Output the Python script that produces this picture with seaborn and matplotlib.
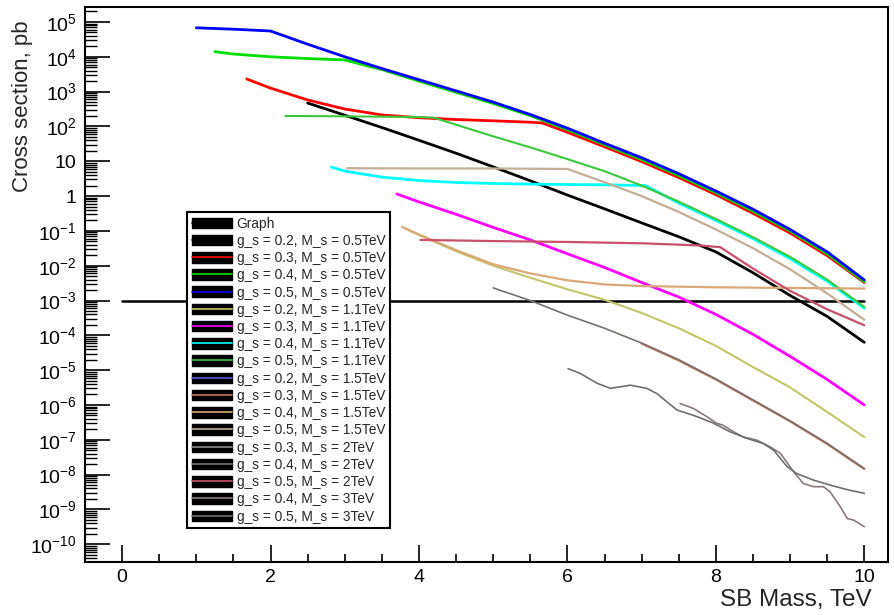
import numpy as np
import pandas as pd
import matplotlib
matplotlib.use("Agg")
import matplotlib.pyplot as plt
import matplotlib.ticker as mticker
from matplotlib.lines import Line2D
from matplotlib.patches import Patch
from matplotlib.legend_handler import HandlerTuple
import seaborn as sns

# ---------------- data (SB mass in TeV, cross section in pb) ----------------
graph_x = [0.0, 10.0]
graph_y = [1e-3, 1e-3]

m_g05_M05 = [1.0, 1.5, 2.0, 2.5, 3.0, 3.5, 4.0, 4.5, 5.0, 5.5, 6.0, 6.5, 7.0, 7.5, 8.0, 8.5, 9.0, 9.5, 10.0]
xs_g05_M05 = [6.8e4, 6.2e4, 5.5e4, 2.3e4, 1.0e4, 4.6e3, 2.2e3, 1.05e3, 5.0e2, 2.2e2, 89, 33, 12.6, 4.4, 1.4, 0.42, 0.11, 0.025, 3.9e-3]

m_g04_M05 = [1.25, 1.5, 2.0, 2.5, 3.0, 3.5, 4.0, 4.5, 5.0, 5.5, 6.0, 6.5, 7.0, 7.5, 8.0, 8.5, 9.0, 9.5, 10.0]
xs_g04_M05 = [1.4e4, 1.2e4, 1.0e4, 8.9e3, 8.1e3, 4.3e3, 2.0e3, 955, 457, 204, 81, 30, 11.2, 3.9, 1.26, 0.37, 0.1, 0.022, 3.5e-3]

m_g03_M05 = [1.68, 2.0, 2.5, 3.0, 3.5, 4.0, 4.5, 5.0, 5.5, 5.66, 6.0, 6.5, 7.0, 7.5, 8.0, 8.5, 9.0, 9.5, 10.0]
xs_g03_M05 = [2.3e3, 1.26e3, 575, 316, 214, 178, 158, 145, 132, 126, 68, 26, 9.8, 3.4, 1.1, 0.32, 0.087, 0.0195, 3.3e-3]

m_g02_M05 = [2.5, 3.0, 3.5, 4.0, 4.5, 5.0, 5.5, 6.0, 6.5, 7.0, 7.5, 8.0, 8.5, 9.0, 9.5, 10.0]
xs_g02_M05 = [470, 210, 93, 40, 17, 6.9, 2.75, 1.07, 0.43, 0.17, 0.068, 0.025, 6.3e-3, 1.4e-3, 3.5e-4, 6.3e-5]

m_g05_M11 = [2.2, 3.0, 4.0, 4.2, 4.5, 5.0, 5.5, 6.0, 6.5, 7.0, 7.5, 8.0, 8.5, 9.0, 9.5, 10.0]
xs_g05_M11 = [200, 195, 186, 178, 112, 52, 25, 11.5, 5.2, 2.0, 0.69, 0.22, 0.066, 0.018, 4.0e-3, 6.5e-4]

m_g04_M11 = [2.82, 3.0, 3.5, 4.0, 4.5, 5.0, 5.5, 6.0, 6.5, 7.05, 7.5, 8.0, 8.5, 9.0, 9.5, 10.0]
xs_g04_M11 = [6.8, 5.2, 3.5, 2.8, 2.45, 2.3, 2.2, 2.15, 2.1, 2.0, 0.63, 0.2, 0.06, 0.016, 3.6e-3, 6.0e-4]

m_g03_M11 = [3.7, 4.0, 4.5, 5.0, 5.5, 6.0, 6.5, 7.0, 7.5, 8.0, 8.5, 9.0, 9.5, 10.0]
xs_g03_M11 = [1.15, 0.68, 0.3, 0.126, 0.055, 0.022, 8.9e-3, 3.3e-3, 1.26e-3, 4.0e-4, 1.07e-4, 2.5e-5, 5.4e-6, 1.0e-6]

m_g02_M11 = [3.8, 4.0, 4.5, 5.0, 5.5, 6.0, 6.5, 7.0, 7.5, 8.0, 8.5, 9.0, 9.5, 10.0]
xs_g02_M11 = [0.12, 0.076, 0.026, 0.01, 4.5e-3, 2.1e-3, 1.05e-3, 4.4e-4, 1.6e-4, 5.0e-5, 1.23e-5, 3.2e-6, 6.3e-7, 1.2e-7]

m_g05_M15 = [3.03, 4.0, 5.0, 6.0, 6.5, 7.0, 7.5, 8.0, 8.5, 9.0, 9.5, 10.0]
xs_g05_M15 = [6.3, 6.2, 6.2, 6.0, 2.5, 1.0, 0.35, 0.11, 0.032, 7.9e-3, 1.6e-3, 2.8e-4]

m_g04_M15 = [3.77, 4.0, 4.5, 5.0, 5.5, 6.0, 6.5, 7.0, 8.0, 9.0, 10.0]
xs_g04_M15 = [0.13, 0.079, 0.028, 0.011, 6.0e-3, 3.8e-3, 2.9e-3, 2.6e-3, 2.4e-3, 2.3e-3, 2.2e-3]

m_g03_M15 = [7.0, 7.5, 8.0, 8.5, 9.0, 9.5, 10.0]
xs_g03_M15 = [5.8e-5, 1.9e-5, 5.4e-6, 1.35e-6, 3.4e-7, 7.6e-8, 1.45e-8]

m_g05_M2 = [4.02, 5.0, 6.0, 7.0, 7.8, 8.06, 8.5, 9.0, 9.5, 10.0]
xs_g05_M2 = [0.055, 0.051, 0.048, 0.044, 0.038, 0.034, 8.3e-3, 1.9e-3, 5.6e-4, 1.95e-4]

m_g04_M2 = [5.0, 5.5, 6.0, 6.5, 7.0, 7.5, 8.0, 8.5, 9.0, 9.5, 10.0]
xs_g04_M2 = [2.3e-3, 1.0e-3, 3.8e-4, 1.6e-4, 6.0e-5, 2.0e-5, 5.6e-6, 1.4e-6, 3.5e-7, 7.9e-8, 1.5e-8]

m_g05_M3 = [6.01, 6.17, 6.40, 6.58, 6.85, 7.07, 7.21, 7.34, 7.48, 7.61, 7.75, 7.97, 8.19, 8.42, 8.64, 8.78, 8.96, 9.09, 9.32, 9.54, 9.77, 10.0]
xs_g05_M3 = [1.1e-5, 8.1e-6, 4.2e-6, 3.0e-6, 3.7e-6, 3.0e-6, 2.1e-6, 1.23e-6, 7.1e-7, 5.8e-7, 4.6e-7, 3.0e-7, 1.7e-7, 1.1e-7, 7.8e-8, 5.0e-8, 1.7e-8, 1.07e-8, 6.9e-9, 5.0e-9, 3.7e-9, 2.9e-9]

m_g04_M3 = [7.52, 7.70, 7.88, 8.01, 8.10, 8.24, 8.37, 8.55, 8.73, 8.87, 9.05, 9.18, 9.32, 9.45, 9.54, 9.68, 9.77, 9.86, 10.0]
xs_g04_M3 = [1.1e-6, 7.9e-7, 4.6e-7, 3.0e-7, 2.6e-7, 1.7e-7, 1.2e-7, 9.8e-8, 6.3e-8, 4.1e-8, 1.2e-8, 5.5e-9, 4.5e-9, 4.5e-9, 3.2e-9, 1.17e-9, 5.5e-10, 4.9e-10, 3.2e-10]

m_empty = []
xs_empty = []

legend_labels = ["Graph",
                 "g_s = 0.2, M_s = 0.5TeV", "g_s = 0.3, M_s = 0.5TeV", "g_s = 0.4, M_s = 0.5TeV", "g_s = 0.5, M_s = 0.5TeV",
                 "g_s = 0.2, M_s = 1.1TeV", "g_s = 0.3, M_s = 1.1TeV", "g_s = 0.4, M_s = 1.1TeV", "g_s = 0.5, M_s = 1.1TeV",
                 "g_s = 0.2, M_s = 1.5TeV", "g_s = 0.3, M_s = 1.5TeV", "g_s = 0.4, M_s = 1.5TeV", "g_s = 0.5, M_s = 1.5TeV",
                 "g_s = 0.3, M_s = 2TeV", "g_s = 0.4, M_s = 2TeV", "g_s = 0.5, M_s = 2TeV",
                 "g_s = 0.4, M_s = 3TeV", "g_s = 0.5, M_s = 3TeV"]

series_x = [graph_x, m_g02_M05, m_g03_M05, m_g04_M05, m_g05_M05,
            m_g02_M11, m_g03_M11, m_g04_M11, m_g05_M11,
            m_empty, m_g03_M15, m_g04_M15, m_g05_M15,
            m_empty, m_g04_M2, m_g05_M2, m_g04_M3, m_g05_M3]
series_y = [graph_y, xs_g02_M05, xs_g03_M05, xs_g04_M05, xs_g05_M05,
            xs_g02_M11, xs_g03_M11, xs_g04_M11, xs_g05_M11,
            xs_empty, xs_g03_M15, xs_g04_M15, xs_g05_M15,
            xs_empty, xs_g04_M2, xs_g05_M2, xs_g04_M3, xs_g05_M3]

colors = ["#000000",
          "#000000", "#ff0000", "#00dd00", "#0000ff",
          "#c4c46a", "#ff00ff", "#00ffff", "#3cc83c",
          "#5a55d9", "#c47a5a", "#d9a878", "#c4ae96",
          "#8a8a8a", "#7a7070", "#c8506a", "#8a7a7a", "#6e6e6e"]
widths = [1.8, 2.0, 2.0, 2.0, 2.0, 1.5, 2.0, 2.0, 1.5, 1.5, 1.6, 1.6, 1.6, 1.2, 1.2, 1.6, 1.2, 1.2]

ytick_exp = list(range(-10, 6))
ytick_labels = []
for e in ytick_exp:
    if e == 0:
        ytick_labels.append("1")
    elif e == 1:
        ytick_labels.append("10")
    else:
        ytick_labels.append(r"$\mathregular{10^{%d}}$" % e)

# ---------------- style ----------------
sns.set_theme(style="white")
plt.rcParams["font.family"] = ["Liberation Sans", "DejaVu Sans"]
plt.rcParams["mathtext.fontset"] = "custom"
plt.rcParams["mathtext.rm"] = "Liberation Sans"
plt.rcParams["mathtext.it"] = "Liberation Sans:italic"
plt.rcParams["mathtext.bf"] = "Liberation Sans:bold"

fig = plt.figure(figsize=(8.94, 6.15), dpi=100)
ax = fig.add_axes([85 / 894, 1 - 562 / 615, 803 / 894, 555 / 615])

rows = []
for lab, xs, ys in zip(legend_labels, series_x, series_y):
    for xv, yv in zip(xs, ys):
        rows.append((lab, xv, yv))
df = pd.DataFrame(rows, columns=["series", "mass", "xsec"])

for lab, col, lw in zip(legend_labels, colors, widths):
    sub = df[df["series"] == lab]
    if len(sub) == 0:
        continue
    sns.lineplot(data=sub, x="mass", y="xsec", color=col, lw=lw, ax=ax,
                 estimator=None, sort=False, legend=False)

ax.set_yscale("log")
ax.set_xlim(-0.5, 10.32)
ax.set_ylim(10 ** -10.51, 10 ** 5.43)

ax.yaxis.set_major_locator(mticker.FixedLocator([10.0 ** e for e in ytick_exp]))
ax.yaxis.set_major_formatter(mticker.FixedFormatter(ytick_labels))
ax.yaxis.set_minor_locator(mticker.LogLocator(base=10, subs=np.arange(2, 10), numticks=50))
ax.yaxis.set_minor_formatter(mticker.NullFormatter())
ax.xaxis.set_major_locator(mticker.MultipleLocator(2))
ax.xaxis.set_minor_locator(mticker.MultipleLocator(0.5))

ax.tick_params(axis="both", which="both", direction="in", colors="black",
               labelsize=14, width=1.2)
ax.tick_params(axis="y", which="major", length=18, pad=6)
ax.tick_params(axis="y", which="minor", length=8.5, width=1.0)
ax.tick_params(axis="x", which="major", length=12, pad=5)
ax.tick_params(axis="x", which="minor", length=6)
ax.tick_params(left=True, bottom=True, top=False, right=False, which="both")

for s in ax.spines.values():
    s.set_color("black")
    s.set_linewidth(1.5)

ax.set_xlabel("SB Mass, TeV", fontsize=17.5)
ax.xaxis.set_label_coords((872 - 85) / 803, (562 - 589) / 555)
ax.xaxis.label.set_horizontalalignment("right")
ax.set_ylabel("Cross section, pb", fontsize=16)
ax.yaxis.set_label_coords((33 - 85) / 803, (562 - 20) / 555)
ax.yaxis.label.set_horizontalalignment("right")
ax.grid(False)

handles = []
for col in colors:
    handles.append((Patch(facecolor="black", edgecolor="black"),
                    Line2D([], [], color=col, lw=1.2)))
leg = ax.legend(handles, legend_labels, handler_map={tuple: HandlerTuple(ndivide=1, pad=0)},
                loc="upper left", bbox_to_anchor=(0.127, 0.631), borderaxespad=0,
                fontsize=9.9, handlelength=2.9, handleheight=0.8, labelspacing=0.235,
                borderpad=0.35, handletextpad=0.36, frameon=True, fancybox=False,
                framealpha=1, edgecolor="black")
leg.get_frame().set_linewidth(1.5)

fig.savefig("out.png", dpi=100, facecolor="white")
